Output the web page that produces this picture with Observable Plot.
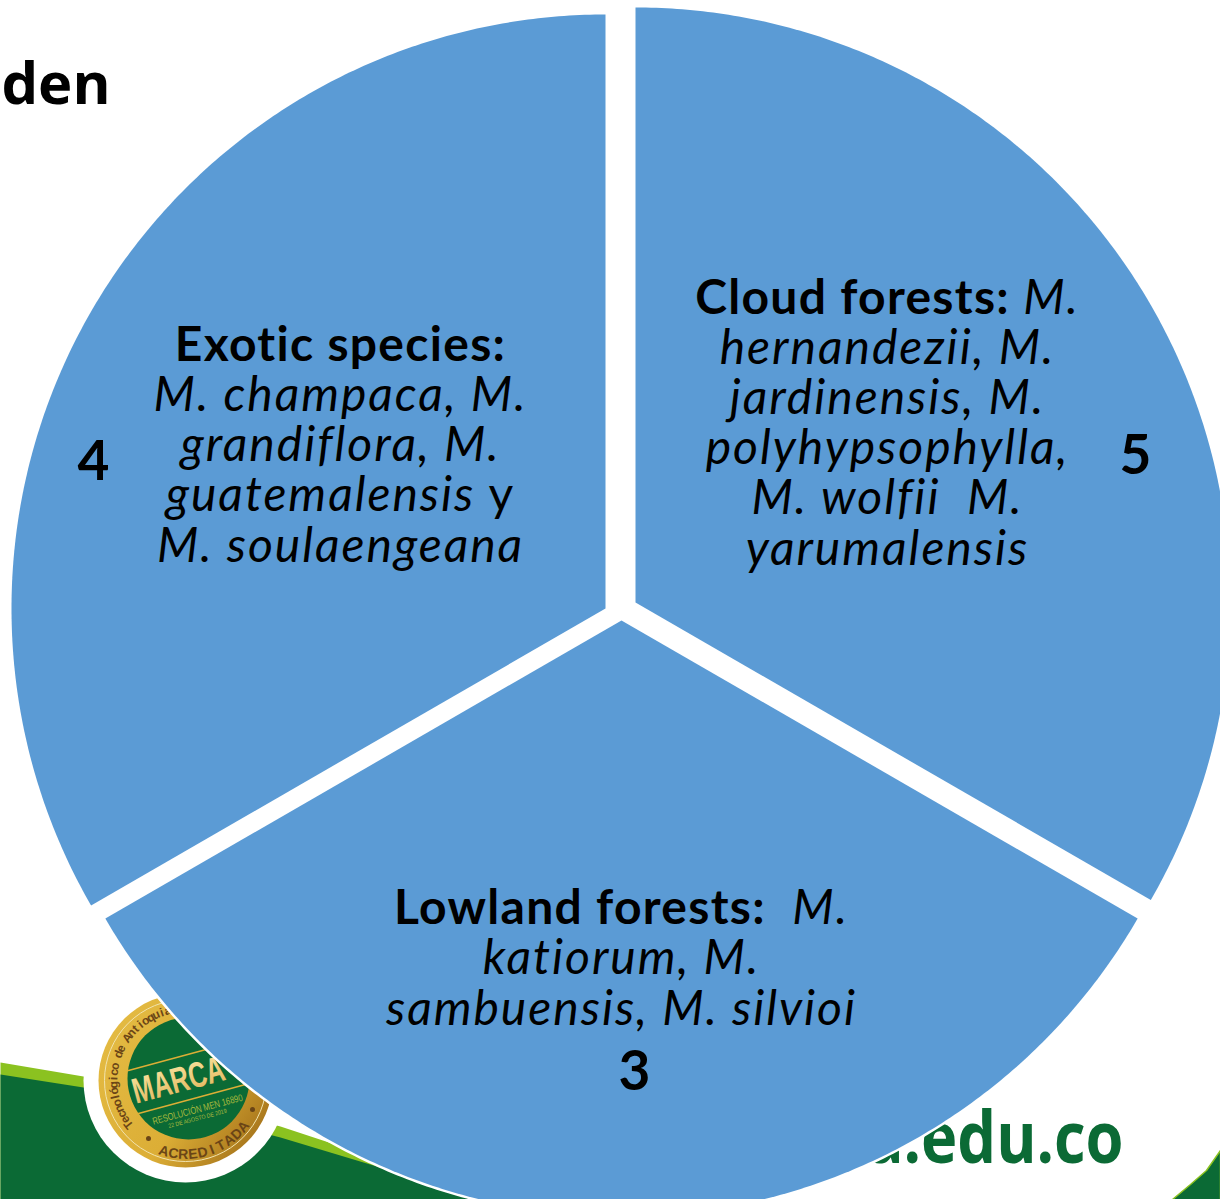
<!doctype html>
<html><head><meta charset="utf-8">
<style>html,body{margin:0;padding:0;background:#fff;overflow:hidden}svg{display:block}</style>
<script src="https://cdn.jsdelivr.net/npm/d3@7"></script>
<script src="https://cdn.jsdelivr.net/npm/@observablehq/plot@0.6"></script>
</head><body><div id="chart"></div>
<script>
// ---- data ----
const categories = ["Cloud forests", "Lowland forests", "Exotic species"];
const shares = [1, 1, 1];
const counts = ["5", "3", "4"];
const cloudLines = ["Cloud forests: M.", "hernandezii, M.", "jardinensis, M.", "polyhypsophylla,", "M. wolfii  M.", "yarumalensis"];
const lowlandLines = ["Lowland forests:  M.", "katiorum, M.", "sambuensis, M. silvioi"];
const exoticLines = ["Exotic species:", "M. champaca, M.", "grandiflora, M.", "guatemalensis y", "M. soulaengeana"];

// ---- layout ----
const W = 1220, H = 1199;
const apex = [[635, 602], [621, 620], [605, 608]];
const radii = [595, 596, 594];
const FONT = "Lato";
const BLUE = "#5b9bd5", DARK = "#0b6a35", LIME = "#8bc220", BROWN = "#6b4516";

const pie = d3.pie().sort(null).value(d => d)(shares);
const slicePts = pie.flatMap((p, i) => {
  const [cx, cy] = apex[i], R = radii[i];
  const steps = 240, pts = [{i, x: cx, y: cy}];
  for (let k = 0; k <= steps; k++) {
    const a = p.startAngle + (p.endAngle - p.startAngle) * k / steps;
    pts.push({i, x: cx + R * Math.sin(a), y: cy - R * Math.cos(a)});
  }
  pts.push({i, x: cx, y: cy});
  return pts;
});

const limeBand = [[0,1062],[83,1076],[280,1126],[383,1160],[520,1199],[0,1199]].map(([x,y]) => ({x,y}));
const darkBand = [[0,1074],[83,1087],[280,1137],[383,1168],[500,1199],[0,1199]].map(([x,y]) => ({x,y}));
const cornerBand = [[1172,1199],[1190,1184],[1206,1170],[1220,1150],[1220,1199]].map(([x,y]) => ({x,y}));

const BX = 185, BY = 1080;
function arcLetters(str, r, startDeg, stepDeg, flip) {
  return Array.from(str).map((c, k) => {
    const deg = startDeg + stepDeg * k, a = deg * Math.PI / 180;
    return {c, x: BX + r * Math.sin(a), y: BY - r * Math.cos(a), rot: flip ? deg - 180 : deg};
  });
}
const tecLetters = arcLetters("Tecnológico de Antioquia", 72, 232, 4.95, false);
const acrLetters = arcLetters("ACREDITADA", 74, 197, -7.6, true);

// tighten / stretch a single-line text to a given length
const fit = (len) => ({
  render(i, s, v, d, c, next) {
    const g = next(i, s, v, d, c);
    g.querySelectorAll("text").forEach(e => { e.setAttribute("textLength", len); e.setAttribute("lengthAdjust", "spacingAndGlyphs"); });
    return g;
  }
});
// italic block whose heading part is bold, letter-spaced like the reference
const block = (heading, plainWord) => ({
  render(i, s, v, d, c, next) {
    const g = next(i, s, v, d, c);
    g.querySelectorAll("text").forEach(e => {
      e.style.letterSpacing = "2px";
      e.style.fontVariantLigatures = "none";
    });
    g.querySelectorAll("tspan").forEach(e => {
      const tx = e.textContent;
      if (tx.startsWith(heading)) {
        e.innerHTML = `<tspan font-weight="700" font-style="normal" style="letter-spacing:1.3px">${heading}</tspan>${tx.slice(heading.length)}`;
      } else if (plainWord && tx.endsWith(" " + plainWord)) {
        e.innerHTML = `${tx.slice(0, -plainWord.length)}<tspan font-style="normal">${plainWord}</tspan>`;
      }
    });
    return g;
  }
});
function t(text, x, y, o = {}) {
  return Plot.text([text], {x: () => x, y: () => y, text: d => d, fontFamily: FONT, fontSize: 48, fill: "#000",
    lineAnchor: "bottom", textAnchor: "middle", ...o});
}
const para = {fontStyle: "italic", lineHeight: 50.2 / 48};
const num = {fontWeight: 700, fontSize: 55};

const goldDefs = () => {
  const ns = "http://www.w3.org/2000/svg";
  const defs = document.createElementNS(ns, "defs");
  defs.innerHTML = `<linearGradient id="gold" x1="0" y1="0" x2="1" y2="0.7"><stop offset="0" stop-color="#e5bd45"/><stop offset="0.65" stop-color="#dcae36"/><stop offset="1" stop-color="#a8761c"/></linearGradient>
  <linearGradient id="marca" x1="0" y1="0" x2="0" y2="1"><stop offset="0" stop-color="#fbe6a2"/><stop offset="1" stop-color="#e0b45a"/></linearGradient>`;
  return defs;
};
const BADGE = "Liberation Sans";

const chart = Plot.plot({
  width: W, height: H, margin: 0,
  x: {domain: [0, W], range: [0, W], axis: null},
  y: {domain: [0, H], range: [0, H], axis: null},
  style: {background: "#fff"},
  marks: [
    goldDefs,
    Plot.line(limeBand, {x: "x", y: "y", fill: LIME, stroke: "none", curve: "linear"}),
    Plot.line(darkBand, {x: "x", y: "y", fill: DARK, stroke: "none", curve: "linear"}),
    Plot.line(cornerBand, {x: "x", y: "y", fill: DARK, stroke: LIME, strokeWidth: 1.5, curve: "linear"}),
    // site address + heading fragment
    t("a.edu.co", 1123, 1162, {fontFamily: "Open Sans", fontWeight: 700, fontSize: 72, fill: DARK, textAnchor: "end", ...fit(257)}),
    t("den", 110, 103, {fontFamily: "Open Sans", fontWeight: 700, fontSize: 58, textAnchor: "end"}),
    // badge
    Plot.dot([0], {x: () => BX, y: () => BY, r: 102, fill: "#fff"}),
    Plot.dot([0], {x: () => BX, y: () => BY, r: 87, fill: "url(#gold)"}),
    Plot.dot([0], {x: () => BX, y: () => BY, r: 81, fill: "none", stroke: "#f1e3ae", strokeWidth: 1}),
    Plot.dot([0], {x: () => BX + 3, y: () => BY - 2, r: 61, fill: DARK}),
    Plot.text(tecLetters, {x: "x", y: "y", text: "c", rotate: "rot", fontFamily: BADGE, fontWeight: 700, fontSize: 12, fill: BROWN}),
    Plot.text(acrLetters, {x: "x", y: "y", text: "c", rotate: "rot", fontFamily: BADGE, fontWeight: 700, fontSize: 14, fill: BROWN}),
    Plot.dot([[148, 1138], [252, 1109]], {x: "0", y: "1", r: 2.5, fill: BROWN}),
    Plot.line([{x:128,y:1070},{x:213,y:1047}], {x: "x", y: "y", stroke: "#dcae36", strokeWidth: 1.5}),
    Plot.line([{x:138,y:1113},{x:245,y:1084}], {x: "x", y: "y", stroke: "#dcae36", strokeWidth: 1.5}),
    Plot.text(["MARCA"], {x: () => 178, y: () => 1080, text: d => d, rotate: -15, fontFamily: BADGE, fontWeight: 700, fontSize: 36, fill: "url(#marca)", ...fit(94)}),
    Plot.text(["RESOLUCIÓN MEN 16890"], {x: () => 197, y: () => 1109, text: d => d, rotate: -15, fontFamily: BADGE, fontSize: 10, fill: "#a9b93d", ...fit(93)}),
    Plot.text(["22 DE AGOSTO DE 2019"], {x: () => 197, y: () => 1118, text: d => d, rotate: -15, fontFamily: BADGE, fontSize: 6, fill: "#a9b93d", ...fit(60)}),
    // pie
    Plot.line(slicePts.filter(d => d.i === 1), {x: "x", y: "y", stroke: "#fff", strokeWidth: 5, curve: "linear"}),
    Plot.line(slicePts, {x: "x", y: "y", z: "i", fill: BLUE, stroke: "none", curve: "linear"}),
    // labels
    t(cloudLines.join("\n"), 887, 564, {...para, ...block(categories[0] + ":")}),
    t(counts[0], 1135, 473, num),
    t(lowlandLines.join("\n"), 621, 1024, {...para, ...block(categories[1] + ":")}),
    t(counts[1], 634, 1089, num),
    t(exoticLines.join("\n"), 340, 561, {...para, ...block(categories[2] + ":", "y")}),
    t(counts[2], 93, 479, num)
  ]
});
document.getElementById("chart").append(chart);
</script></body></html>
